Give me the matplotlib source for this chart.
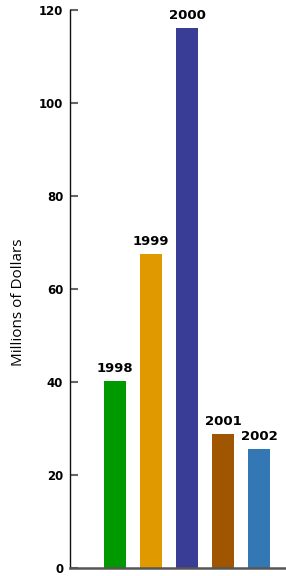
import numpy as np
import matplotlib.pyplot as plt

# Данные: годы и суммы (млн долларов)
years = ["1998", "1999", "2000", "2001", "2002"]
values = [40.2, 67.5, 116.1, 28.8, 25.6]
colors = ["#009900", "#E09A00", "#3A3D96", "#A05500", "#3378B5"]
yticks = [0, 20, 40, 60, 80, 100, 120]

plt.rcParams['font.family'] = ['DejaVu Sans']

fig = plt.figure(figsize=(2.86, 5.76), dpi=100)
ax = fig.add_axes([0.245, 0.0139, 0.755, 0.969])

x = np.arange(len(years))
ax.bar(x, values, width=0.61, color=colors)

for xi, v, label in zip(x, values, years):
    ax.annotate(label, (xi, v), xytext=(0, 4), textcoords="offset points",
                ha="center", va="bottom", fontsize=9.5, fontweight="bold")

ax.set_xlim(-1.25, 4.75)
ax.set_ylim(0, 120)
ax.set_yticks(yticks)
ax.set_yticklabels([str(t) for t in yticks], fontsize=8.5, fontweight="bold")
ax.tick_params(axis="y", direction="in", length=6, width=1.5, color="#666666", pad=5)
ax.set_xticks([])

ax.spines["top"].set_visible(False)
ax.spines["right"].set_visible(False)
ax.spines["left"].set_color("#111111")
ax.spines["left"].set_linewidth(1.0)
ax.spines["bottom"].set_color("#555555")
ax.spines["bottom"].set_linewidth(1.8)

ax.set_ylabel("Millions of Dollars", fontsize=11, fontfamily="Open Sans")
ax.yaxis.set_label_coords(-0.202, 0.477)

fig.savefig("out.png", dpi=100)
